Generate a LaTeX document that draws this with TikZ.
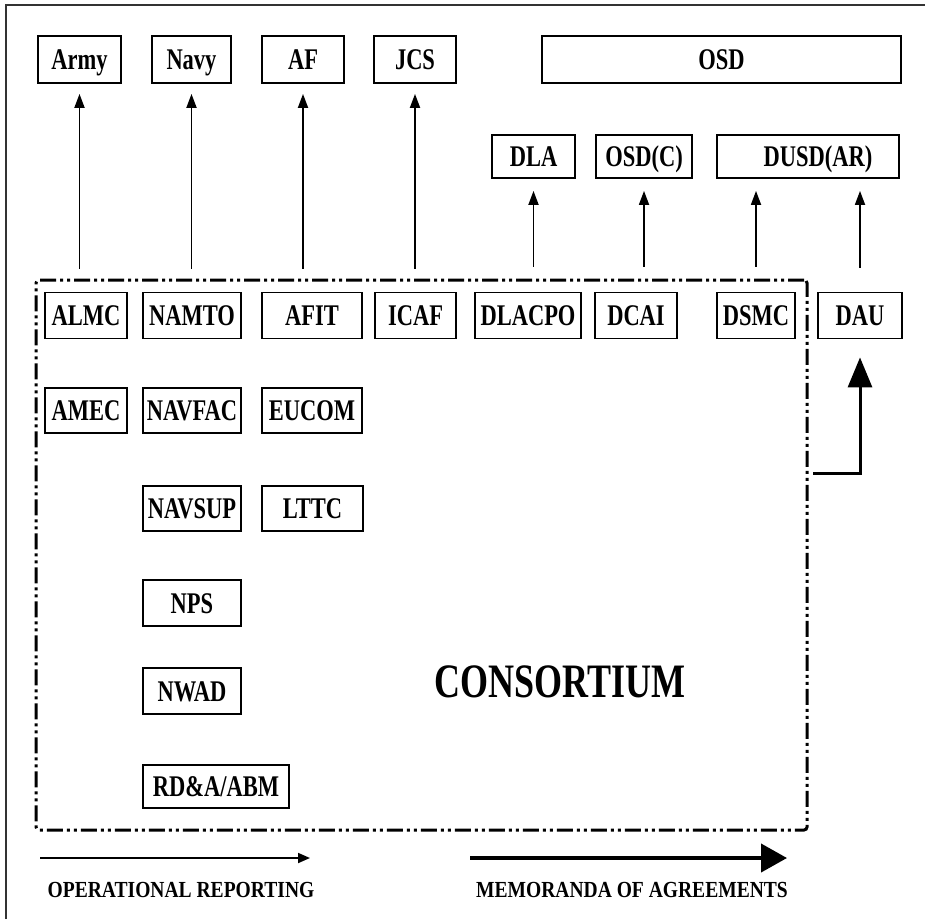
\documentclass[tikz,border=0pt]{standalone}
\usepackage{fontspec}
\setmainfont{Liberation Serif}[FakeStretch=0.75]
\newfontfamily\legendfont{Liberation Serif}[FakeStretch=0.85]
\usetikzlibrary{arrows.meta}

\begin{document}
\begin{tikzpicture}[x=1pt, y=-1pt,
	unit/.style={rectangle, draw, line width=1.8pt, inner sep=0pt, minimum height=46pt, text height=20pt, text depth=0pt, font=\fontsize{30}{30}\selectfont\bfseries},
	report/.style={line width=1.8pt, -{Triangle[length=14pt, width=10pt]}},
	agree/.style={line width=3pt, -{Triangle[length=30pt, width=24pt]}},
	legend/.style={inner sep=0pt, text height=15pt, text depth=0pt, font=\legendfont\fontsize{23}{23}\selectfont\bfseries}]
	\useasboundingbox (0,0) rectangle (925,919);
	\draw[line width=1.2pt, black!80] (6,919) -- (6,5) -- (925,5);

	% services and OSD
	\node[unit, minimum width=83pt, minimum height=47pt] (army) at (79.5,59.5) {Army};
	\node[unit, minimum width=79pt, minimum height=47pt] (navy) at (191.5,59.5) {Navy};
	\node[unit, minimum width=82pt, minimum height=47pt] (af) at (303,59.5) {AF};
	\node[unit, minimum width=82pt, minimum height=47pt] (jcs) at (415,59.5) {JCS};
	\node[unit, minimum width=359pt, minimum height=47pt] (osd) at (721.5,59.5) {OSD};
	\node[unit, minimum width=83pt, minimum height=43pt] (dla) at (533.5,156.5) {DLA};
	\node[unit, minimum width=96pt, minimum height=43pt] (osdc) at (644,156.5) {OSD(C)};
	\node[unit, minimum width=182pt, minimum height=43pt] (dusd) at (808,156.5) {\hspace*{20pt}DUSD(AR)};

	% consortium
	\node[rectangle, draw, line width=3pt, rounded corners=3pt, dash pattern=on 16pt off 4pt on 3pt off 4pt on 3pt off 4pt, minimum width=771pt, minimum height=550pt] (cons) at (421.5,555) {};
	\node[font=\fontsize{48}{48}\selectfont\bfseries] (constext) at (560,682) {CONSORTIUM};

	\node[unit, minimum width=82pt] (almc) at (86,315.5) {ALMC};
	\node[unit, minimum width=98pt] (namto) at (192,315.5) {NAMTO};
	\node[unit, minimum width=100pt] (afit) at (312,315.5) {AFIT};
	\node[unit, minimum width=81pt] (icaf) at (415.5,315.5) {ICAF};
	\node[unit, minimum width=106pt] (dlacpo) at (528,315.5) {DLACPO};
	\node[unit, minimum width=82pt] (dcai) at (636,315.5) {DCAI};
	\node[unit, minimum width=78pt] (dsmc) at (756,315.5) {DSMC};
	\node[unit, minimum width=84pt] (dau) at (860,315.5) {DAU};

	\node[unit, minimum width=82pt, minimum height=45pt] (amec) at (86,410.5) {AMEC};
	\node[unit, minimum width=98pt, minimum height=45pt] (navfac) at (192,410.5) {NAVFAC};
	\node[unit, minimum width=100pt, minimum height=45pt] (eucom) at (312,410.5) {EUCOM};
	\node[unit, minimum width=98pt, minimum height=45pt] (navsup) at (192,508.5) {NAVSUP};
	\node[unit, minimum width=101pt, minimum height=45pt] (lttc) at (312.5,508.5) {LTTC};
	\node[unit, minimum width=98pt] (nps) at (192,603) {NPS};
	\node[unit, minimum width=98pt] (nwad) at (192,691) {NWAD};
	\node[unit, minimum width=146pt, minimum height=43pt] (rda) at (216,786.5) {RD\&A/ABM};

	% reporting lines
	\foreach \up in {army, navy, af, jcs}
		\draw[report, shorten <=10pt, shorten >=10pt] (\up.south |- cons.north) -- (\up.south);
	\foreach \up in {dla, osdc}
		\draw[report, shorten <=12pt, shorten >=12pt] (\up.south |- cons.north) -- (\up.south);
	\draw[report, shorten <=12pt, shorten >=12pt] (dsmc.north |- cons.north) -- (dsmc.north |- dusd.south);
	\draw[report, shorten <=24pt, shorten >=12pt] (dau.north) -- (dau.north |- dusd.south);

	\coordinate (moa) at (813,473);
	\draw[agree, shorten >=18pt] (moa) -| (dau.south);

	% legend
	\coordinate (opfrom) at (40,858);
	\coordinate (opto) at (310,858);
	\draw[line width=1.8pt, -{Triangle[length=12pt, width=10pt]}] (opfrom) -- (opto);
	\node[legend] (oplabel) at (181,890) {OPERATIONAL REPORTING};
	\coordinate (moafrom) at (470,858);
	\coordinate (moato) at (787,858);
	\draw[line width=4pt, -{Triangle[length=26pt, width=28pt]}] (moafrom) -- (moato);
	\node[legend] (moalabel) at (632,890) {MEMORANDA OF AGREEMENTS};
\end{tikzpicture}
\end{document}
